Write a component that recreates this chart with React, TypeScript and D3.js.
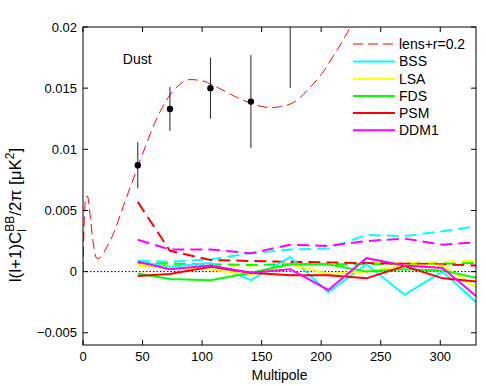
import * as d3 from 'd3';

const W = 486;
const H = 386;
const margin = { top: 27, right: 10, bottom: 41, left: 83 };
const FONT = 'Liberation Sans, Arial, Helvetica, sans-serif';

// multipole bins of the band powers
const ellBins = [46, 73, 107, 141, 174, 206, 238, 270, 302, 330];

// lens + r=0.2 model spectrum
const theoryEll = [0, 1, 2, 3, 4, 6, 8, 10, 12, 15, 20, 26, 34, 42, 50, 60, 70, 80, 90, 100, 110, 120, 130, 140, 150, 158, 166, 174, 182, 190, 200, 210, 220, 226];
const theoryVal = [0, 0.004, 0.0058, 0.0062, 0.0061, 0.0046, 0.0028, 0.0015, 0.00105, 0.0012, 0.002, 0.0032, 0.0054, 0.0075, 0.0096, 0.0121, 0.014, 0.0152, 0.0157, 0.0156, 0.0152, 0.0147, 0.0142, 0.0138, 0.0135, 0.0134, 0.0135, 0.0137, 0.0142, 0.015, 0.0161, 0.0176, 0.0192, 0.0203];

// dust spectrum with error bars
const dustEll = [46, 73, 107, 141, 174];
const dustVal = [0.0087, 0.0133, 0.015, 0.0139, 0.0225];
const dustErr = [0.0019, 0.0018, 0.0025, 0.0038, 0.0075];

// solid lines (residuals)
const bssSolid = [0.0008, 0.0004, 0.0007, -0.0007, 0.0012, -0.0017, 0.0006, -0.0019, 0.0, -0.0025];
const lsaSolid = [0.0005, 0.0003, 0.0002, -0.0003, 0.0006, -0.0002, 0.0, 0.0005, 0.0005, -0.0013];
const fdsSolid = [-0.00015, -0.0006, -0.0007, -0.0001, 0.0006, 0.0006, 0.0, 0.0002, 0.0001, -0.0005];
const psmSolid = [-0.00035, -0.0002, 0.0004, -0.0001, -0.0003, -0.0003, -0.00055, 0.00045, -0.00055, -0.0008];
const ddmSolid = [0.0008, 0.0002, 0.0005, -0.0001, 0.0002, -0.0015, 0.0011, 0.0005, 0.0003, -0.002];

// dashed lines (noise)
const bssDashed = [0.0009, 0.0008, 0.001, 0.0015, 0.0018, 0.0019, 0.003, 0.0029, 0.0033, 0.0037];
const lsaDashed = [0.0006, 0.0006, 0.0005, 0.0005, 0.0006, 0.0006, 0.0007, 0.0007, 0.0008, 0.0009];
const fdsDashed = [0.0007, 0.00065, 0.0006, 0.00055, 0.0006, 0.0006, 0.0006, 0.0006, 0.00065, 0.0007];
const psmDashed = [0.0057, 0.0017, 0.00095, 0.00087, 0.0008, 0.00075, 0.0007, 0.00065, 0.0006, 0.0005];
const ddmDashed = [0.0026, 0.0018, 0.0018, 0.0015, 0.0022, 0.0021, 0.0025, 0.0027, 0.0022, 0.0024];

const methods = ['BSS', 'LSA', 'FDS', 'PSM', 'DDM1'];
const colors = ['#00ffff', '#ffff00', '#00ff00', '#ff0000', '#ff00ff'];
const solids = [bssSolid, lsaSolid, fdsSolid, psmSolid, ddmSolid];
const dasheds = [bssDashed, lsaDashed, fdsDashed, psmDashed, ddmDashed];

const xTicks = [0, 50, 100, 150, 200, 250, 300];
const yTicks = [-0.005, 0, 0.005, 0.01, 0.015, 0.02];

export default function App() {
  const x = d3.scaleLinear().domain([0, 330]).range([margin.left, W - margin.right]);
  const y = d3.scaleLinear().domain([-0.006, 0.02]).range([H - margin.bottom, margin.top]);

  const binLine = d3
    .line<number>()
    .x((d, i) => x(ellBins[i]))
    .y((d) => y(d));

  const theoryLine = d3
    .line<number>()
    .x((d, i) => x(theoryEll[i]))
    .y((d) => y(d))
    .curve(d3.curveMonotoneX);

  const x0 = margin.left;
  const x1 = W - margin.right;
  const y0 = H - margin.bottom;
  const y1 = margin.top;
  const tk = 5;

  return (
    <svg width={W} height={H} style={{ position: 'absolute', left: 0, top: 0, background: '#fff' }} fontFamily={FONT}>
      <defs>
        <clipPath id="plot">
          <rect x={x0} y={y1} width={x1 - x0} height={y0 - y1} />
        </clipPath>
      </defs>

      <g clipPath="url(#plot)">
        {/* zero line */}
        <line x1={x0} x2={x1} y1={y(0)} y2={y(0)} stroke="#000" strokeWidth={1} strokeDasharray="1.5 2" />

        <path d={theoryLine(theoryVal) ?? ''} fill="none" stroke="#ff0000" strokeWidth={1} strokeDasharray="10 5" />

        {dustEll.map((l, i) => (
          <line key={'e' + i} x1={x(l)} x2={x(l)} y1={y(dustVal[i] - dustErr[i])} y2={y(dustVal[i] + dustErr[i])} stroke="#222" strokeWidth={1} />
        ))}
        {dustEll.map((l, i) => (
          <circle key={'p' + i} cx={x(l)} cy={y(dustVal[i])} r={3.2} fill="#000" />
        ))}

        {dasheds.map((s, i) => (
          <path key={'d' + i} d={binLine(s) ?? ''} fill="none" stroke={colors[i]} strokeWidth={2} strokeDasharray="12 6" />
        ))}
        {solids.map((s, i) => (
          <path key={'s' + i} d={binLine(s) ?? ''} fill="none" stroke={colors[i]} strokeWidth={2} />
        ))}
      </g>

      {/* axes box */}
      <rect x={x0} y={y1} width={x1 - x0} height={y0 - y1} fill="none" stroke="#000" strokeWidth={1} />

      {xTicks.map((t) => (
        <g key={'xt' + t}>
          <line x1={x(t)} x2={x(t)} y1={y0} y2={y0 - tk} stroke="#000" />
          <line x1={x(t)} x2={x(t)} y1={y1} y2={y1 + tk} stroke="#000" />
          <text x={x(t)} y={y0 + 16} textAnchor="middle" fontSize={13}>
            {t}
          </text>
        </g>
      ))}
      {yTicks.map((t) => (
        <g key={'yt' + t}>
          <line x1={x0} x2={x0 + tk} y1={y(t)} y2={y(t)} stroke="#000" />
          <line x1={x1} x2={x1 - tk} y1={y(t)} y2={y(t)} stroke="#000" />
          <text x={x0 - 6} y={y(t)} dy="0.35em" textAnchor="end" fontSize={13}>
            {t === 0 ? '0' : t < 0 ? '\u2212' + d3.format('')(-t) : d3.format('')(t)}
          </text>
        </g>
      ))}

      <text x={(x0 + x1) / 2} y={H - 6} textAnchor="middle" fontSize={14}>
        Multipole
      </text>

      <text transform={`translate(21,215) rotate(-90)`} textAnchor="middle" fontSize={17}>
        l(l+1)C
        <tspan fontSize={12} dy={-7}>BB</tspan>
        <tspan fontSize={12} dx={-16} dy={12}>l</tspan>
        <tspan dx={13.3} dy={-5}>/2π [μK</tspan>
        <tspan fontSize={12} dy={-7}>2</tspan>
        <tspan dy={7}>]</tspan>
      </text>

      <text x={x(46) - 15} y={64} fontSize={14}>
        Dust
      </text>

      {/* legend */}
      <g fontSize={14}>
        <line x1={353} x2={395} y1={44} y2={44} stroke="#ff0000" strokeWidth={1} strokeDasharray="10 5" />
        <text x={399} y={44} dy="0.35em">
          lens+r=0.2
        </text>
        {methods.map((m, i) => (
          <g key={m}>
            <line x1={353} x2={395} y1={61.5 + i * 17.2} y2={61.5 + i * 17.2} stroke={colors[i]} strokeWidth={2} />
            <text x={399} y={61.5 + i * 17.2} dy="0.35em">
              {m}
            </text>
          </g>
        ))}
      </g>
    </svg>
  );
}
